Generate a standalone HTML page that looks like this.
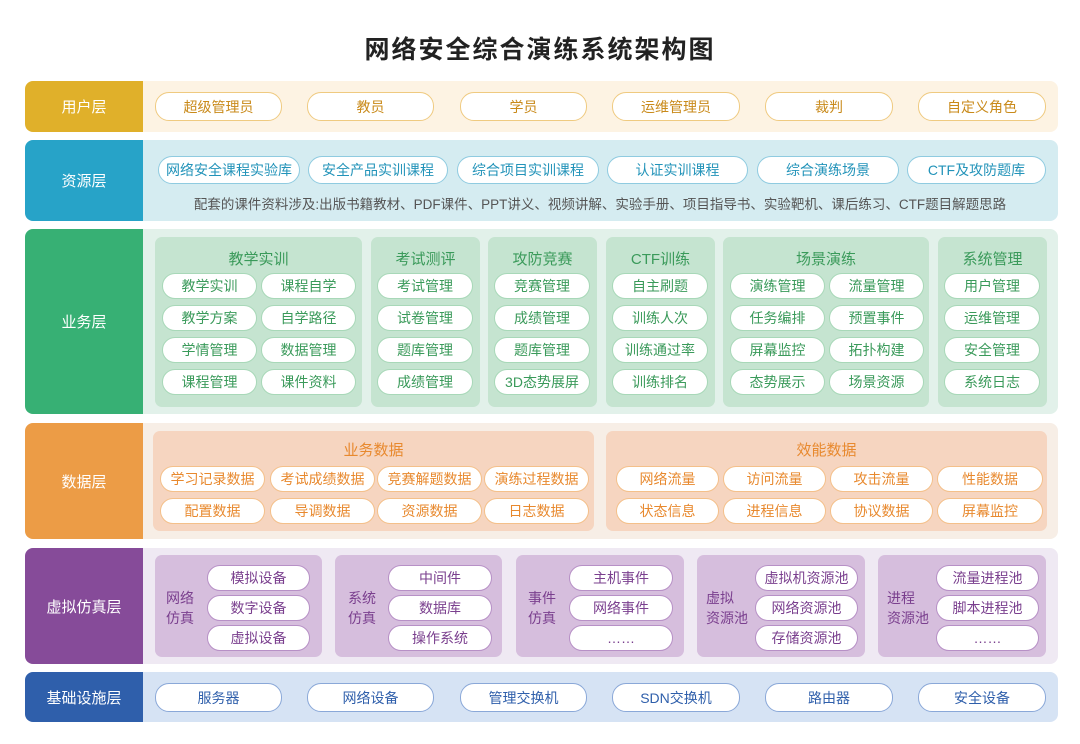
<!DOCTYPE html>
<html><head><meta charset="utf-8"><style>
*{margin:0;padding:0;box-sizing:border-box}
body{width:1080px;height:744px;background:#fff;position:relative;font-family:"Liberation Sans","Noto Sans CJK SC",sans-serif;overflow:hidden}
.a{position:absolute}
.t{left:0;width:1080px;top:30px;text-align:center;font-size:25px;font-weight:bold;color:#222;letter-spacing:2px}
.lab{position:absolute;left:25px;width:118px;color:#fff;font-size:15px;display:flex;align-items:center;justify-content:center;border-radius:8px 0 0 8px}
.bg{position:absolute;left:142px;width:916px;border-radius:0 8px 8px 0}
.p{position:absolute;background:#fff;border-radius:14px;display:flex;align-items:center;justify-content:center;font-size:14px;border:1.5px solid;white-space:nowrap}
.g{position:absolute;border-radius:7px}
.gt{position:absolute;font-size:15px;text-align:center}
.u{color:#c98a1a;border-color:#efca80;height:29px;top:92px}
.r{color:#2293b9;border-color:#8fcbe0;height:28px;top:156px}
.b{color:#3a9a5a;border-color:#a8d8b8;height:26px}
.d{color:#e8892e;border-color:#f4c08a;height:26px}
.v{color:#7a3f8e;border-color:#b790c6;height:26px}
.i{color:#2f5fab;border-color:#8aa8d8;height:29px;top:683px}
.vl{position:absolute;font-size:14px;color:#7a3f8e;line-height:20px}
</style></head><body>
<div class="a t">网络安全综合演练系统架构图</div>

<div class="bg" style="top:81px;height:51px;background:#fdf3e3"></div>
<div class="lab" style="top:81px;height:51px;background:#e0b02a">用户层</div>
<div class="p u" style="left:155px;width:127px">超级管理员</div>
<div class="p u" style="left:307px;width:127px">教员</div>
<div class="p u" style="left:460px;width:127px">学员</div>
<div class="p u" style="left:612px;width:128px">运维管理员</div>
<div class="p u" style="left:765px;width:128px">裁判</div>
<div class="p u" style="left:918px;width:128px">自定义角色</div>

<div class="bg" style="top:140px;height:81px;background:#d5ecf1"></div>
<div class="lab" style="top:140px;height:81px;background:#27a3c8">资源层</div>
<div class="p r" style="left:158px;width:142px">网络安全课程实验库</div>
<div class="p r" style="left:308px;width:140px">安全产品实训课程</div>
<div class="p r" style="left:457px;width:142px">综合项目实训课程</div>
<div class="p r" style="left:607px;width:141px">认证实训课程</div>
<div class="p r" style="left:757px;width:142px">综合演练场景</div>
<div class="p r" style="left:907px;width:139px">CTF及攻防题库</div>
<div class="a" style="left:142px;width:916px;top:193px;text-align:center;font-size:13.5px;color:#555">配套的课件资料涉及:出版书籍教材、PDF课件、PPT讲义、视频讲解、实验手册、项目指导书、实验靶机、课后练习、CTF题目解题思路</div>

<div class="bg" style="top:229px;height:185px;background:#e2f1ea"></div>
<div class="lab" style="top:229px;height:185px;background:#37b074">业务层</div>
<div class="g" style="left:155px;top:237px;width:207px;height:170px;background:#c5e4d0"></div>
<div class="g" style="left:371px;top:237px;width:109px;height:170px;background:#c5e4d0"></div>
<div class="g" style="left:488px;top:237px;width:109px;height:170px;background:#c5e4d0"></div>
<div class="g" style="left:606px;top:237px;width:109px;height:170px;background:#c5e4d0"></div>
<div class="g" style="left:723px;top:237px;width:206px;height:170px;background:#c5e4d0"></div>
<div class="g" style="left:938px;top:237px;width:109px;height:170px;background:#c5e4d0"></div>
<div class="gt" style="left:155px;width:207px;top:248px;color:#3a9a5a">教学实训</div>
<div class="gt" style="left:371px;width:109px;top:248px;color:#3a9a5a">考试测评</div>
<div class="gt" style="left:488px;width:109px;top:248px;color:#3a9a5a">攻防竞赛</div>
<div class="gt" style="left:606px;width:109px;top:248px;color:#3a9a5a">CTF训练</div>
<div class="gt" style="left:723px;width:206px;top:248px;color:#3a9a5a">场景演练</div>
<div class="gt" style="left:938px;width:109px;top:248px;color:#3a9a5a">系统管理</div>
<div class="p b" style="left:162px;width:95px;top:273px">教学实训</div>
<div class="p b" style="left:261px;width:95px;top:273px">课程自学</div>
<div class="p b" style="left:162px;width:95px;top:305px">教学方案</div>
<div class="p b" style="left:261px;width:95px;top:305px">自学路径</div>
<div class="p b" style="left:162px;width:95px;top:337px">学情管理</div>
<div class="p b" style="left:261px;width:95px;top:337px">数据管理</div>
<div class="p b" style="left:162px;width:95px;top:369px">课程管理</div>
<div class="p b" style="left:261px;width:95px;top:369px">课件资料</div>
<div class="p b" style="left:377px;width:96px;top:273px">考试管理</div>
<div class="p b" style="left:377px;width:96px;top:305px">试卷管理</div>
<div class="p b" style="left:377px;width:96px;top:337px">题库管理</div>
<div class="p b" style="left:377px;width:96px;top:369px">成绩管理</div>
<div class="p b" style="left:494px;width:96px;top:273px">竞赛管理</div>
<div class="p b" style="left:494px;width:96px;top:305px">成绩管理</div>
<div class="p b" style="left:494px;width:96px;top:337px">题库管理</div>
<div class="p b" style="left:494px;width:96px;top:369px">3D态势展屏</div>
<div class="p b" style="left:612px;width:96px;top:273px">自主刷题</div>
<div class="p b" style="left:612px;width:96px;top:305px">训练人次</div>
<div class="p b" style="left:612px;width:96px;top:337px">训练通过率</div>
<div class="p b" style="left:612px;width:96px;top:369px">训练排名</div>
<div class="p b" style="left:730px;width:95px;top:273px">演练管理</div>
<div class="p b" style="left:829px;width:95px;top:273px">流量管理</div>
<div class="p b" style="left:730px;width:95px;top:305px">任务编排</div>
<div class="p b" style="left:829px;width:95px;top:305px">预置事件</div>
<div class="p b" style="left:730px;width:95px;top:337px">屏幕监控</div>
<div class="p b" style="left:829px;width:95px;top:337px">拓扑构建</div>
<div class="p b" style="left:730px;width:95px;top:369px">态势展示</div>
<div class="p b" style="left:829px;width:95px;top:369px">场景资源</div>
<div class="p b" style="left:944px;width:96px;top:273px">用户管理</div>
<div class="p b" style="left:944px;width:96px;top:305px">运维管理</div>
<div class="p b" style="left:944px;width:96px;top:337px">安全管理</div>
<div class="p b" style="left:944px;width:96px;top:369px">系统日志</div>

<div class="bg" style="top:423px;height:116px;background:#f7eee6"></div>
<div class="lab" style="top:423px;height:116px;background:#ec9c46">数据层</div>
<div class="g" style="left:153px;top:431px;width:441px;height:100px;background:#f6d5c0"></div>
<div class="g" style="left:606px;top:431px;width:441px;height:100px;background:#f6d5c0"></div>
<div class="gt" style="left:153px;width:441px;top:439px;color:#e8892e">业务数据</div>
<div class="gt" style="left:606px;width:441px;top:439px;color:#e8892e">效能数据</div>
<div class="p d" style="left:160px;width:105px;top:466px">学习记录数据</div>
<div class="p d" style="left:270px;width:105px;top:466px">考试成绩数据</div>
<div class="p d" style="left:377px;width:105px;top:466px">竞赛解题数据</div>
<div class="p d" style="left:484px;width:105px;top:466px">演练过程数据</div>
<div class="p d" style="left:160px;width:105px;top:498px">配置数据</div>
<div class="p d" style="left:270px;width:105px;top:498px">导调数据</div>
<div class="p d" style="left:377px;width:105px;top:498px">资源数据</div>
<div class="p d" style="left:484px;width:105px;top:498px">日志数据</div>
<div class="p d" style="left:616px;width:103px;top:466px">网络流量</div>
<div class="p d" style="left:723px;width:103px;top:466px">访问流量</div>
<div class="p d" style="left:830px;width:103px;top:466px">攻击流量</div>
<div class="p d" style="left:937px;width:106px;top:466px">性能数据</div>
<div class="p d" style="left:616px;width:103px;top:498px">状态信息</div>
<div class="p d" style="left:723px;width:103px;top:498px">进程信息</div>
<div class="p d" style="left:830px;width:103px;top:498px">协议数据</div>
<div class="p d" style="left:937px;width:106px;top:498px">屏幕监控</div>

<div class="bg" style="top:548px;height:116px;background:#efe9f3"></div>
<div class="lab" style="top:548px;height:116px;background:#864b99">虚拟仿真层</div>
<div class="g" style="left:155px;top:555px;width:167px;height:102px;background:#d6bedd"></div>
<div class="g" style="left:335px;top:555px;width:167px;height:102px;background:#d6bedd"></div>
<div class="g" style="left:516px;top:555px;width:168px;height:102px;background:#d6bedd"></div>
<div class="g" style="left:697px;top:555px;width:168px;height:102px;background:#d6bedd"></div>
<div class="g" style="left:878px;top:555px;width:168px;height:102px;background:#d6bedd"></div>
<div class="vl" style="left:166px;top:588px">网络<br>仿真</div>
<div class="vl" style="left:348px;top:588px">系统<br>仿真</div>
<div class="vl" style="left:528px;top:588px">事件<br>仿真</div>
<div class="vl" style="left:706px;top:588px">虚拟<br>资源池</div>
<div class="vl" style="left:887px;top:588px">进程<br>资源池</div>
<div class="p v" style="left:207px;width:103px;top:565px">模拟设备</div>
<div class="p v" style="left:207px;width:103px;top:595px">数字设备</div>
<div class="p v" style="left:207px;width:103px;top:625px">虚拟设备</div>
<div class="p v" style="left:388px;width:104px;top:565px">中间件</div>
<div class="p v" style="left:388px;width:104px;top:595px">数据库</div>
<div class="p v" style="left:388px;width:104px;top:625px">操作系统</div>
<div class="p v" style="left:569px;width:104px;top:565px">主机事件</div>
<div class="p v" style="left:569px;width:104px;top:595px">网络事件</div>
<div class="p v" style="left:569px;width:104px;top:625px">……</div>
<div class="p v" style="left:755px;width:103px;top:565px">虚拟机资源池</div>
<div class="p v" style="left:755px;width:103px;top:595px">网络资源池</div>
<div class="p v" style="left:755px;width:103px;top:625px">存储资源池</div>
<div class="p v" style="left:936px;width:103px;top:565px">流量进程池</div>
<div class="p v" style="left:936px;width:103px;top:595px">脚本进程池</div>
<div class="p v" style="left:936px;width:103px;top:625px">……</div>

<div class="bg" style="top:672px;height:50px;background:#d6e3f4"></div>
<div class="lab" style="top:672px;height:50px;background:#2f5fab">基础设施层</div>
<div class="p i" style="left:155px;width:127px">服务器</div>
<div class="p i" style="left:307px;width:127px">网络设备</div>
<div class="p i" style="left:460px;width:127px">管理交换机</div>
<div class="p i" style="left:612px;width:128px">SDN交换机</div>
<div class="p i" style="left:765px;width:128px">路由器</div>
<div class="p i" style="left:918px;width:128px">安全设备</div>
</body></html>
